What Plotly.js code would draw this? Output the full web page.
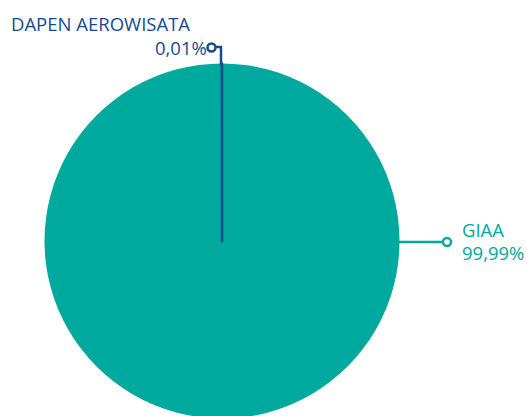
<!DOCTYPE html>
<html>
<head>
<meta charset="utf-8">
<script src="https://cdn.plot.ly/plotly-3.0.1.min.js"></script>
<style>
html,body{margin:0;padding:0;overflow:hidden;background:#fff;}
#chart{width:526px;height:420px;}
</style>
</head>
<body>
<div id="chart"></div>
<script>
// Data
const labels = ["GIAA", "DAPEN AEROWISATA"];
const values = [99.99, 0.01];
const valueLabels = ["99,99%", "0,01%"];
const colors = ["#00a99d", "#134b93"];

const W = 526, H = 420;
const px = x => x / W;
const py = y => 1 - y / H;

const cx = 222, cy = 241, r = 177.5;

const trace = {
  type: "pie",
  labels: labels,
  values: values,
  sort: false,
  direction: "clockwise",
  rotation: 0,
  textinfo: "none",
  hoverinfo: "label+percent",
  showlegend: false,
  domain: {x: [px(cx - r), px(cx + r)], y: [py(cy + r), py(cy - r)]},
  marker: {colors: colors, line: {color: ["rgba(0,0,0,0)", colors[1]], width: [0, 2.5]}}
};

const font = "Open Sans, sans-serif";
const fs = 18.5;
const layout = {
  width: W, height: H,
  margin: {l: 0, r: 0, t: 0, b: 0},
  paper_bgcolor: "#fff",
  showlegend: false,
  shapes: [
    {type: "path", xref: "paper", yref: "paper",
     path: `M ${px(221)} ${py(66)} L ${px(221)} ${py(47)} L ${px(215)} ${py(47)}`,
     line: {color: colors[1], width: 2.5}, layer: "above"},
    {type: "circle", xref: "paper", yref: "paper",
     x0: px(207.5), x1: px(215.5), y0: py(43.5), y1: py(51.5),
     line: {color: colors[1], width: 2.5}, fillcolor: "#fff", layer: "above"},
    {type: "line", xref: "paper", yref: "paper",
     x0: px(398), x1: px(443), y0: py(242), y1: py(242),
     line: {color: colors[0], width: 2.5}, layer: "above"},
    {type: "circle", xref: "paper", yref: "paper",
     x0: px(443), x1: px(451), y0: py(238), y1: py(246),
     line: {color: colors[0], width: 2.5}, fillcolor: "#fff", layer: "above"}
  ],
  annotations: [
    {text: labels[1], xref: "paper", yref: "paper", x: px(9), y: py(37.5),
     xanchor: "left", yanchor: "bottom", showarrow: false,
     font: {family: font, size: fs, color: colors[1]}},
    {text: valueLabels[1], xref: "paper", yref: "paper", x: px(209), y: py(62),
     xanchor: "right", yanchor: "bottom", showarrow: false,
     font: {family: font, size: fs, color: colors[1]}},
    {text: labels[0], xref: "paper", yref: "paper", x: px(460), y: py(244),
     xanchor: "left", yanchor: "bottom", showarrow: false,
     font: {family: font, size: fs, color: colors[0]}},
    {text: valueLabels[0], xref: "paper", yref: "paper", x: px(460), y: py(266.5),
     xanchor: "left", yanchor: "bottom", showarrow: false,
     font: {family: font, size: fs, color: colors[0]}}
  ]
};

Plotly.newPlot("chart", [trace], layout, {displayModeBar: false, staticPlot: true});
</script>
</body>
</html>
